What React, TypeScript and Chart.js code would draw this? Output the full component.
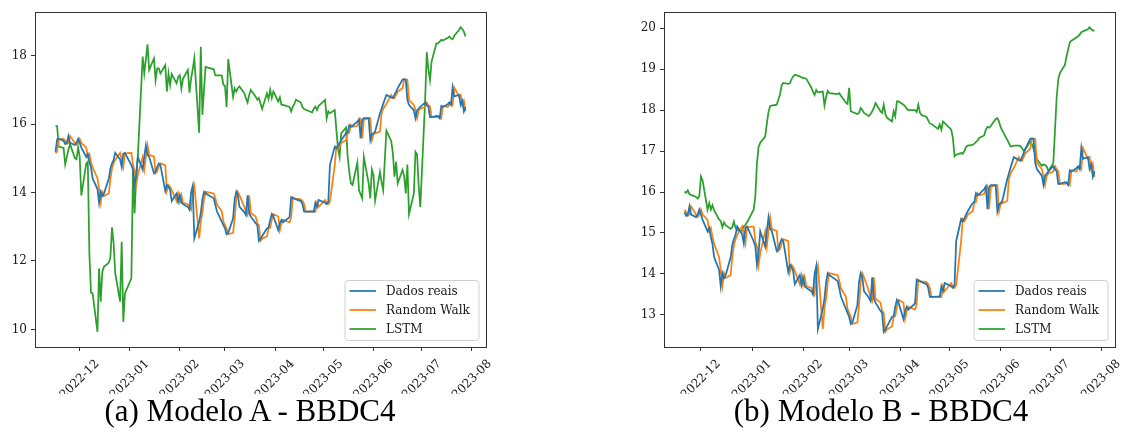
import React, { useEffect, useRef } from 'react';
import { Chart, registerables } from 'chart.js';

Chart.register(...registerables);

// Trading days (B3 calendar) covered by the series
const tradingDates: string[] = [
  '2022-11-16', '2022-11-17', '2022-11-18', '2022-11-21', '2022-11-22', '2022-11-23', '2022-11-24', '2022-11-25', '2022-11-28', '2022-11-29', '2022-11-30',
  '2022-12-01', '2022-12-02', '2022-12-05', '2022-12-06', '2022-12-07', '2022-12-08', '2022-12-09', '2022-12-12', '2022-12-13', '2022-12-14', '2022-12-15', '2022-12-16', '2022-12-19', '2022-12-20', '2022-12-21', '2022-12-22', '2022-12-23', '2022-12-26', '2022-12-27', '2022-12-28', '2022-12-29',
  '2023-01-02', '2023-01-03', '2023-01-04', '2023-01-05', '2023-01-06', '2023-01-09', '2023-01-10', '2023-01-11', '2023-01-12', '2023-01-13', '2023-01-16', '2023-01-17', '2023-01-18', '2023-01-19', '2023-01-20', '2023-01-23', '2023-01-24', '2023-01-25', '2023-01-26', '2023-01-27', '2023-01-30', '2023-01-31',
  '2023-02-01', '2023-02-02', '2023-02-03', '2023-02-06', '2023-02-07', '2023-02-08', '2023-02-09', '2023-02-10', '2023-02-13', '2023-02-14', '2023-02-15', '2023-02-16', '2023-02-17', '2023-02-22', '2023-02-23', '2023-02-24', '2023-02-27', '2023-02-28',
  '2023-03-01', '2023-03-02', '2023-03-03', '2023-03-06', '2023-03-07', '2023-03-08', '2023-03-09', '2023-03-10', '2023-03-13', '2023-03-14', '2023-03-15', '2023-03-16', '2023-03-17', '2023-03-20', '2023-03-21', '2023-03-22', '2023-03-23', '2023-03-24', '2023-03-27', '2023-03-28', '2023-03-29', '2023-03-30', '2023-03-31',
  '2023-04-03', '2023-04-04', '2023-04-05', '2023-04-06', '2023-04-10', '2023-04-11', '2023-04-12', '2023-04-13', '2023-04-14', '2023-04-17', '2023-04-18', '2023-04-19', '2023-04-20', '2023-04-24', '2023-04-25', '2023-04-26', '2023-04-27', '2023-04-28',
  '2023-05-02', '2023-05-03', '2023-05-04', '2023-05-05', '2023-05-08', '2023-05-09', '2023-05-10', '2023-05-11', '2023-05-12', '2023-05-15', '2023-05-16', '2023-05-17', '2023-05-18', '2023-05-19', '2023-05-22', '2023-05-23', '2023-05-24', '2023-05-25', '2023-05-26', '2023-05-29', '2023-05-30', '2023-05-31',
  '2023-06-01', '2023-06-02', '2023-06-05', '2023-06-06', '2023-06-07', '2023-06-09', '2023-06-12', '2023-06-13', '2023-06-14', '2023-06-15', '2023-06-16', '2023-06-19', '2023-06-20', '2023-06-21', '2023-06-22', '2023-06-23', '2023-06-26', '2023-06-27', '2023-06-28', '2023-06-29', '2023-06-30',
  '2023-07-03', '2023-07-04', '2023-07-05', '2023-07-06', '2023-07-07', '2023-07-10', '2023-07-11', '2023-07-12', '2023-07-13', '2023-07-14', '2023-07-17', '2023-07-18', '2023-07-19', '2023-07-20', '2023-07-21', '2023-07-24', '2023-07-25', '2023-07-26', '2023-07-27', '2023-07-28',
];

// BBDC4 closing prices
const dadosReais: number[] = [
  15.19, 15.55, 15.57, 15.51, 15.42, 15.45, 15.65, 15.45, 15.39, 15.45, 15.57,
  15.45, 15.32, 15.04, 15.12, 14.9, 14.73, 14.41, 14.1, 13.7, 14.02, 13.9, 13.97, 14.4, 14.7, 14.85, 14.95, 15.16, 14.97, 14.75, 15.14, 15.16,
  14.8, 14.67, 14.22, 14.51, 15.04, 14.67, 15.04, 15.38, 15.1, 15.05, 14.56, 14.61, 14.75, 14.85, 14.8, 14.05, 14.22, 14.17, 14.07, 13.75, 13.97, 13.73,
  13.92, 13.7, 13.66, 13.58, 13.5, 14.0, 14.19, 12.66, 13.15, 13.4, 13.8, 14.02, 13.97, 13.83, 13.65, 13.45, 13.15, 13.05,
  12.95, 12.78, 12.82, 13.24, 13.8, 14.02, 13.92, 13.58, 13.42, 13.34, 13.92, 13.4, 13.3, 13.1, 13.05, 12.59, 12.65, 12.72, 12.95, 12.97, 13.2, 13.37, 13.3,
  12.9, 13.1, 13.2, 13.13, 13.28, 13.86, 13.83, 13.82, 13.8, 13.75, 13.66, 13.44, 13.44, 13.45, 13.44, 13.7, 13.58, 13.78,
  13.7, 13.66, 13.73, 14.8, 15.34, 15.29, 15.36, 15.45, 15.53, 15.73, 15.75, 15.97, 15.92, 15.95, 16.07, 16.14, 15.58, 16.12, 16.17, 16.17, 15.53, 15.7,
  15.73, 15.78, 16.31, 16.45, 16.59, 16.85, 16.78, 16.76, 16.85, 16.95, 17.05, 17.3, 17.31, 17.29, 16.71, 16.56, 16.4, 16.17, 16.4, 16.45, 16.5,
  16.63, 16.55, 16.51, 16.2, 16.2, 16.24, 16.22, 16.17, 16.53, 16.5, 16.58, 16.63, 16.56, 17.07, 16.81, 16.85, 16.56, 16.68, 16.37, 16.5,
];

// Random walk forecast (previous close)
const randomWalk: number[] = [
  15.15, 15.19, 15.55, 15.57, 15.51, 15.42, 15.45, 15.65, 15.45, 15.39, 15.45,
  15.57, 15.45, 15.32, 15.04, 15.12, 14.9, 14.73, 14.41, 14.1, 13.7, 14.02, 13.9, 13.97, 14.4, 14.7, 14.85, 14.95, 15.16, 14.97, 14.75, 15.14,
  15.16, 14.8, 14.67, 14.22, 14.51, 15.04, 14.67, 15.04, 15.38, 15.1, 15.05, 14.56, 14.61, 14.75, 14.85, 14.8, 14.05, 14.22, 14.17, 14.07, 13.75, 13.97,
  13.73, 13.92, 13.7, 13.66, 13.58, 13.5, 14.0, 14.19, 12.66, 13.15, 13.4, 13.8, 14.02, 13.97, 13.83, 13.65, 13.45, 13.15,
  13.05, 12.95, 12.78, 12.82, 13.24, 13.8, 14.02, 13.92, 13.58, 13.42, 13.34, 13.92, 13.4, 13.3, 13.1, 13.05, 12.59, 12.65, 12.72, 12.95, 12.97, 13.2, 13.37,
  13.3, 12.9, 13.1, 13.2, 13.13, 13.28, 13.86, 13.83, 13.82, 13.8, 13.75, 13.66, 13.44, 13.44, 13.45, 13.44, 13.7, 13.58,
  13.78, 13.7, 13.66, 13.73, 14.8, 15.34, 15.29, 15.36, 15.45, 15.53, 15.73, 15.75, 15.97, 15.92, 15.95, 16.07, 16.14, 15.58, 16.12, 16.17, 16.17, 15.53,
  15.7, 15.73, 15.78, 16.31, 16.45, 16.59, 16.85, 16.78, 16.76, 16.85, 16.95, 17.05, 17.3, 17.31, 17.29, 16.71, 16.56, 16.4, 16.17, 16.4, 16.45,
  16.5, 16.63, 16.55, 16.51, 16.2, 16.2, 16.24, 16.22, 16.17, 16.53, 16.5, 16.58, 16.63, 16.56, 17.07, 16.81, 16.85, 16.56, 16.68, 16.37,
];

// LSTM forecast, model A (same dates as dadosReais)
const lstmModeloA: number[] = [
  15.95, 15.94, 15.34, 15.3, 14.82, 15.04, 15.25, 15.42, 15.0, 14.97, 15.32,
  15.04, 13.91, 14.84, 14.9, 12.2, 11.07, 11.05, 9.93, 11.78, 10.81, 11.68, 11.83, 11.95, 12.1, 12.98, 12.52, 11.64, 10.81, 12.56, 10.22, 11.05,
  11.49, 14.66, 13.39, 14.46, 15.04, 17.97, 17.48, 17.9, 18.33, 17.58, 17.92, 17.29, 17.63, 17.63, 17.48, 17.72, 16.95, 17.48, 17.14, 17.46, 17.19, 17.38,
  17.43, 17.04, 17.33, 17.58, 16.92, 17.33, 17.6, 17.92, 15.75, 18.26, 16.27, 17.0, 17.67, 17.6, 17.42, 17.42, 17.42, 17.15,
  17.12, 16.5, 17.9, 16.8, 17.04, 16.95, 17.05, 17.1, 16.9, 16.75, 16.63, 16.85, 17.0, 16.8, 16.71, 16.76, 16.6, 16.44, 16.9, 16.73, 17.0, 16.76, 16.95,
  16.66, 16.78, 16.56, 16.56, 16.5, 16.37, 16.5, 16.6, 16.71, 16.63, 16.5, 16.44, 16.42, 16.34, 16.45, 16.51, 16.41, 16.53,
  16.71, 16.17, 16.37, 16.32, 16.41, 15.83, 15.29, 15.04, 15.73, 15.9, 15.04, 14.6, 14.27, 14.22, 14.87, 14.07, 13.95, 13.83, 15.04, 14.27, 13.83, 14.67,
  14.5, 13.76, 14.6, 14.3, 14.07, 15.81, 15.5, 15.15, 14.46, 14.9, 14.27, 14.66, 14.48, 13.97, 14.82, 13.37, 13.97, 15.19, 15.12, 14.2, 13.58,
  16.71, 18.1, 17.6, 17.29, 17.83, 18.36, 18.36, 18.41, 18.46, 18.44, 18.52, 18.56, 18.5, 18.48, 18.58, 18.75, 18.83, 18.78, 18.7, 18.56,
];

// LSTM forecast, model B (starts on 2022-11-21)
const inicioModeloB = 3;
const lstmModeloB: number[] = [
  16.01, 15.98, 16.04, 15.95, 15.93, 15.88, 15.84, 15.9,
  16.38, 16.28, 15.57, 15.73, 15.57, 15.68, 15.55, 15.33, 15.29, 15.14, 15.26, 15.19, 15.1, 15.14, 15.28, 15.13, 15.06, 15.05, 15.16, 15.2, 15.26,
  15.57, 15.88, 16.7, 17.1, 17.2, 17.35, 17.67, 17.95, 18.1, 18.11, 18.13, 18.25, 18.38, 18.6, 18.66, 18.64, 18.65, 18.75, 18.82, 18.86, 18.82, 18.8,
  18.78, 18.78, 18.76, 18.55, 18.45, 18.37, 18.49, 18.43, 18.45, 18.11, 18.32, 18.47, 18.41, 18.39, 18.41, 18.35, 18.18, 18.15,
  18.54, 17.97, 17.95, 17.9, 17.93, 18.05, 18.0, 17.93, 17.85, 17.9, 17.97, 18.05, 18.17, 17.97, 17.93, 18.13, 17.9, 17.81, 17.72, 17.97, 17.85, 18.21, 18.21,
  18.13, 18.09, 18.03, 18.0, 18.0, 17.95, 18.13, 17.93, 17.88, 17.83, 17.75, 17.67, 17.66, 17.54, 17.65, 17.52, 17.72, 17.68,
  17.52, 17.32, 16.87, 16.91, 16.95, 16.93, 17.0, 17.1, 17.13, 17.15, 17.18, 17.22, 17.26, 17.32, 17.38, 17.52, 17.59, 17.57, 17.61, 17.78, 17.8, 17.72,
  17.58, 17.5, 17.27, 17.2, 17.11, 17.13, 17.13, 17.12, 17.07, 17.0, 17.05, 17.23, 17.17, 17.05, 16.93, 16.8, 16.64, 16.67, 16.66, 16.62, 16.51,
  16.71, 17.5, 18.3, 18.75, 18.9, 19.1, 19.3, 19.48, 19.65, 19.69, 19.77, 19.8, 19.84, 19.9, 19.92, 19.97, 20.02, 19.97, 19.94, 19.94,
];

const monthTickLabels: string[] = ['2022-12', '2023-01', '2023-02', '2023-03', '2023-04', '2023-05', '2023-06', '2023-07', '2023-08'];
const yTicksModeloA: number[] = [10, 12, 14, 16, 18];
const yTicksModeloB: number[] = [13, 14, 15, 16, 17, 18, 19, 20];
const seriesLabels: string[] = ['Dados reais', 'Random Walk', 'LSTM'];
const seriesColors: string[] = ['#1f77b4', '#ff7f0e', '#2ca02c'];
const captions: string[] = ['(a) Modelo A - BBDC4', '(b) Modelo B - BBDC4'];

const SERIF = "'DejaVu Serif', serif";
const FONT_PX = 12;
const toMs = (s: string) => Date.parse(s + 'T00:00:00Z');
const monthMs = (s: string) => Date.parse(s + '-01T00:00:00Z');

const decorPlugin = {
  id: 'panelDecor',
  afterDraw(chart: any) {
    const { ctx, chartArea: a, scales } = chart;
    const clipBottom = 394;

    // axes frame
    ctx.save();
    ctx.strokeStyle = '#333333';
    ctx.lineWidth = 1;
    ctx.strokeRect(Math.floor(a.left) + 0.5, Math.floor(a.top) + 0.5, Math.round(a.right - a.left), Math.round(a.bottom - a.top));
    ctx.restore();

    // rotated month labels
    ctx.save();
    ctx.beginPath();
    ctx.rect(0, 0, chart.width, clipBottom);
    ctx.clip();
    ctx.font = `${FONT_PX}px ${SERIF}`;
    ctx.fillStyle = '#1a1a1a';
    for (const lab of monthTickLabels) {
      const px = scales.x.getPixelForValue(monthMs(lab));
      const w = ctx.measureText(lab).width;
      const ext = (w + FONT_PX * 1.15) * Math.SQRT1_2;
      const cy = a.bottom + 10 + ext / 2;
      ctx.save();
      ctx.translate(px, cy);
      ctx.rotate(-Math.PI / 4);
      ctx.textAlign = 'center';
      ctx.textBaseline = 'middle';
      ctx.fillText(lab, 0, 0);
      ctx.restore();
    }
    ctx.restore();

    // legend box (lower right)
    const bw = 134;
    const bh = 60;
    const bx = a.right - 7 - bw;
    const by = a.bottom - 6.5 - bh;
    const r = 3;
    ctx.save();
    ctx.beginPath();
    ctx.moveTo(bx + r, by);
    ctx.lineTo(bx + bw - r, by);
    ctx.quadraticCurveTo(bx + bw, by, bx + bw, by + r);
    ctx.lineTo(bx + bw, by + bh - r);
    ctx.quadraticCurveTo(bx + bw, by + bh, bx + bw - r, by + bh);
    ctx.lineTo(bx + r, by + bh);
    ctx.quadraticCurveTo(bx, by + bh, bx, by + bh - r);
    ctx.lineTo(bx, by + r);
    ctx.quadraticCurveTo(bx, by, bx + r, by);
    ctx.closePath();
    ctx.fillStyle = 'rgba(255,255,255,0.8)';
    ctx.fill();
    ctx.strokeStyle = '#d0d0d0';
    ctx.lineWidth = 1;
    ctx.stroke();
    ctx.font = `${FONT_PX}px ${SERIF}`;
    ctx.textAlign = 'left';
    ctx.textBaseline = 'middle';
    chart.data.datasets.forEach((ds: any, i: number) => {
      const y = by + 10.5 + 19 * i;
      ctx.strokeStyle = ds.borderColor;
      ctx.lineWidth = 1.75;
      ctx.beginPath();
      ctx.moveTo(bx + 4.5, y);
      ctx.lineTo(bx + 31, y);
      ctx.stroke();
      ctx.fillStyle = '#1a1a1a';
      ctx.fillText(ds.label, bx + 41, y + 0.5);
    });
    ctx.restore();
  },
};

type PanelProps = {
  left: number;
  width: number;
  axisWidth: number;
  rightPad: number;
  dates: string[];
  series: number[][];
  yTicks: number[];
};

function Panel({ left, width, axisWidth, rightPad, dates, series, yTicks }: PanelProps) {
  const ref = useRef<HTMLCanvasElement | null>(null);

  useEffect(() => {
    if (!ref.current) return;
    const xs = dates.map(toMs);
    const x0 = xs[0];
    const x1 = xs[xs.length - 1];
    const xPad = (x1 - x0) * 0.05;
    const all = series.flat();
    const lo = Math.min(...all);
    const hi = Math.max(...all);
    const yPad = (hi - lo) * 0.05;
    const tickMs = monthTickLabels.map(monthMs);

    const gridOpts = {
      drawOnChartArea: false,
      drawTicks: true,
      tickLength: 4,
      color: '#333333',
      lineWidth: 1,
    };

    const chart = new Chart(ref.current, {
      type: 'line',
      data: {
        datasets: series.map((vals, i) => ({
          label: seriesLabels[i],
          data: vals.map((v, j) => ({ x: xs[j], y: v })),
          borderColor: seriesColors[i],
          backgroundColor: seriesColors[i],
          borderWidth: 1.75,
          pointRadius: 0,
          tension: 0,
          fill: false,
        })),
      },
      options: {
        animation: false,
        responsive: false,
        maintainAspectRatio: false,
        devicePixelRatio: 1,
        events: [],
        layout: { padding: { left: 0, right: rightPad, top: 12, bottom: 0 } },
        plugins: { legend: { display: false }, tooltip: { enabled: false } },
        scales: {
          x: {
            type: 'linear',
            min: x0 - xPad,
            max: x1 + xPad,
            afterBuildTicks: (s: any) => {
              s.ticks = tickMs.map((v) => ({ value: v }));
            },
            afterFit: (s: any) => {
              s.height = 96;
            },
            ticks: { display: false },
            grid: gridOpts,
            border: { display: false },
          },
          y: {
            type: 'linear',
            min: lo - yPad,
            max: hi + yPad,
            afterBuildTicks: (s: any) => {
              s.ticks = yTicks.map((v) => ({ value: v }));
            },
            afterFit: (s: any) => {
              s.width = axisWidth;
            },
            ticks: {
              font: { family: SERIF, size: FONT_PX },
              color: '#1a1a1a',
              padding: 4,
              callback: (v: any) => String(v),
            },
            grid: gridOpts,
            border: { display: false },
          },
        },
      } as any,
      plugins: [decorPlugin],
    });
    return () => chart.destroy();
  }, []);

  return (
    <canvas
      ref={ref}
      width={width}
      height={443}
      style={{ position: 'absolute', left, top: 0, width, height: 443, display: 'block' }}
    />
  );
}

const captionStyle = (center: number): React.CSSProperties => ({
  position: 'absolute',
  left: center - 200,
  width: 400,
  top: 395,
  textAlign: 'center',
  fontFamily: "'Liberation Serif', serif",
  fontSize: 31,
  lineHeight: '31px',
  color: '#000',
  whiteSpace: 'nowrap',
});

export default function App() {
  const datesB = tradingDates.slice(inicioModeloB);
  return (
    <div style={{ position: 'fixed', left: 0, top: 0, width: 1127, height: 443, background: '#fff', overflow: 'hidden' }}>
      <Panel
        left={0}
        width={563}
        axisWidth={35}
        rightPad={77}
        dates={tradingDates}
        series={[dadosReais, randomWalk, lstmModeloA]}
        yTicks={yTicksModeloA}
      />
      <Panel
        left={564}
        width={563}
        axisWidth={100}
        rightPad={12}
        dates={datesB}
        series={[dadosReais.slice(inicioModeloB), randomWalk.slice(inicioModeloB), lstmModeloB]}
        yTicks={yTicksModeloB}
      />
      <div style={captionStyle(250)}>{captions[0]}</div>
      <div style={captionStyle(881)}>{captions[1]}</div>
    </div>
  );
}
